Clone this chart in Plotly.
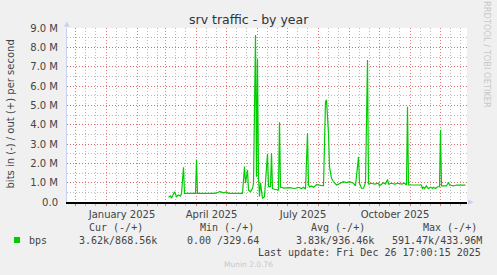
import plotly.graph_objects as go

# ---- data (out direction, Mbit/s) ----
dates = [
    "2025-03-04", "2025-03-06", "2025-03-07", "2025-03-08", "2025-03-10", "2025-03-12",
    "2025-03-14", "2025-03-16", "2025-03-17", "2025-03-19", "2025-03-20", "2025-03-31",
    "2025-04-01", "2025-04-02", "2025-04-19", "2025-04-23", "2025-04-24", "2025-04-28",
    "2025-05-01", "2025-05-03", "2025-05-17", "2025-05-19", "2025-05-20", "2025-05-22",
    "2025-05-23", "2025-05-25", "2025-05-27", "2025-05-28", "2025-05-30", "2025-05-31",
    "2025-06-01", "2025-06-02", "2025-06-03", "2025-06-04", "2025-06-05", "2025-06-06",
    "2025-06-08", "2025-06-10", "2025-06-11", "2025-06-12", "2025-06-14", "2025-06-15",
    "2025-06-16", "2025-06-18", "2025-06-21", "2025-06-22", "2025-06-23", "2025-06-24",
    "2025-06-28", "2025-07-03", "2025-07-08", "2025-07-12", "2025-07-15", "2025-07-17",
    "2025-07-19", "2025-07-21", "2025-07-22", "2025-07-23", "2025-07-25", "2025-07-27",
    "2025-07-29", "2025-07-30", "2025-08-03", "2025-08-06", "2025-08-08", "2025-08-09",
    "2025-08-11", "2025-08-12", "2025-08-14", "2025-08-16", "2025-08-19", "2025-08-22",
    "2025-08-26", "2025-08-29", "2025-09-01", "2025-09-05", "2025-09-07", "2025-09-10",
    "2025-09-11", "2025-09-13", "2025-09-15", "2025-09-17", "2025-09-19", "2025-09-20",
    "2025-09-23", "2025-09-26", "2025-09-30", "2025-10-01", "2025-10-05", "2025-10-07",
    "2025-10-09", "2025-10-10", "2025-10-13", "2025-10-16", "2025-10-20", "2025-10-23",
    "2025-10-26", "2025-10-28", "2025-10-29", "2025-10-30", "2025-11-12", "2025-11-13",
    "2025-11-14", "2025-11-15", "2025-11-17", "2025-11-18", "2025-11-19", "2025-11-21",
    "2025-11-23", "2025-11-24", "2025-11-26", "2025-11-28", "2025-11-30", "2025-12-01",
    "2025-12-02", "2025-12-07", "2025-12-09", "2025-12-10", "2025-12-12", "2025-12-14",
    "2025-12-17", "2025-12-26",
]
out_mbps = [
    0.24, 0.31, 0.19, 0.28, 0.53, 0.27,
    0.36, 0.30, 0.45, 1.80, 0.45, 0.45,
    2.20, 0.45, 0.45, 0.50, 0.55, 0.47,
    0.52, 0.45, 0.45, 1.83, 0.97, 1.66,
    0.62, 0.53, 0.71, 0.97, 8.64, 1.30,
    7.38, 1.30, 0.28, 1.00, 0.50, 0.19,
    0.28, 1.60, 2.50, 0.80, 0.80, 2.52,
    0.70, 0.66, 0.62, 0.62, 4.12, 0.76,
    0.72, 0.74, 0.70, 0.76, 0.70, 0.76,
    0.67, 3.55, 0.88, 0.78, 0.83, 0.76,
    0.84, 0.90, 0.86, 0.85, 5.19, 5.28,
    3.55, 1.83, 1.22, 1.05, 0.88, 0.97,
    1.05, 1.00, 1.05, 0.97, 0.84, 2.34,
    0.97, 0.71, 0.71, 1.00, 7.35, 0.93,
    0.97, 0.93, 0.97, 0.84, 1.00, 0.93,
    1.17, 0.93, 0.97, 0.93, 0.97, 0.93,
    0.97, 0.88, 4.93, 0.88, 0.88, 0.67,
    0.78, 0.70, 0.83, 0.73, 0.70, 0.76,
    0.70, 0.76, 0.70, 0.79, 0.79, 3.72,
    0.83, 0.83, 1.02, 0.88, 0.86, 0.83,
    0.88, 0.87,
]

y_ticks = [0, 1e6, 2e6, 3e6, 4e6, 5e6, 6e6, 7e6, 8e6, 9e6]
y_tick_text = ["0.0", "1.0 M", "2.0 M", "3.0 M", "4.0 M", "5.0 M", "6.0 M", "7.0 M", "8.0 M", "9.0 M"]
month_alias = {
    "November 2024": "", "December 2024": "", "February 2025": "", "March 2025": "",
    "May 2025": "", "June 2025": "", "August 2025": "", "September 2025": "",
    "November 2025": "", "December 2025": "",
}
minor_grid_dates = [
    "2024-12-11", "2024-12-21", "2025-01-11", "2025-01-21", "2025-02-11", "2025-02-21",
    "2025-03-11", "2025-03-21", "2025-04-11", "2025-04-21", "2025-05-11", "2025-05-21",
    "2025-06-11", "2025-06-21", "2025-07-11", "2025-07-21", "2025-08-11", "2025-08-21",
    "2025-09-11", "2025-09-21", "2025-10-11", "2025-10-21", "2025-11-11", "2025-11-21",
    "2025-12-11", "2025-12-21",
]

legend_cols = ["Cur (-/+)", "Min (-/+)", "Avg (-/+)", "Max (-/+)"]
legend_vals = ["3.62k/868.56k", "0.00 /329.64", "3.83k/936.46k", "591.47k/433.96M"]

title = "srv traffic - by year"
ylabel = "bits in (-) / out (+) per second"
series_name = "bps"
last_update = "Last update: Fri Dec 26 17:00:15 2025"
watermark = "RRDTOOL / TOBI OETIKER"
footer = "Munin 2.0.76"

# ---- layout geometry (pixels) ----
W, H = 497, 275
L, R, T, B = 67, 467, 28, 202
PW, PH = R - L, B - T


def px(x):
    return (x - L) / PW


def py(y):
    return (B - y) / PH


GREEN = "#00CC00"
MAJ = "rgba(225,90,90,0.8)"
MIN = "rgba(170,170,170,0.8)"
TXT = "#444444"

fig = go.Figure()
fig.add_trace(go.Scatter(
    x=dates, y=[v * 1e6 for v in out_mbps], mode="lines",
    line=dict(color=GREEN, width=1.2), hoverinfo="skip", showlegend=False,
))

fig.update_layout(
    width=W, height=H,
    margin=dict(l=L, r=W - R, t=T, b=H - B, pad=0),
    paper_bgcolor="#F0F0F0", plot_bgcolor="#FFFFFF",
    showlegend=False,
    font=dict(family="DejaVu Sans", size=10, color=TXT),
)

fig.update_xaxes(
    type="date",
    range=["2024-11-22 12:00", "2025-12-27 12:00"],
    tick0="2024-12-01", dtick="M1",
    ticklabelmode="period", tickformat="%B %Y", labelalias=month_alias,
    showgrid=True, gridcolor=MAJ, griddash="1px,2px", gridwidth=1,
    ticks="outside", ticklen=2, tickcolor="rgba(230,100,100,0.9)",
    minor=dict(tickvals=minor_grid_dates,
               showgrid=True, gridcolor=MIN, griddash="1px,2px", gridwidth=1,
               ticks="outside", ticklen=2, tickcolor="#bbbbbb"),
    showline=True, linecolor="#000000", linewidth=1.5,
    tickfont=dict(family="DejaVu Sans", size=10, color=TXT),
    zeroline=False, fixedrange=True,
)

fig.update_yaxes(
    range=[0, 9e6],
    tickmode="array", tickvals=y_ticks, ticktext=y_tick_text,
    showgrid=True, gridcolor=MAJ, griddash="1px,2px", gridwidth=1,
    minor=dict(dtick=5e5, showgrid=True, gridcolor=MIN, griddash="1px,2px", gridwidth=1),
    showline=True, linecolor="#C8D0F0", linewidth=1,
    ticks="", ticklabelstandoff=6,
    tickfont=dict(family="DejaVu Sans", size=10, color=TXT),
    zeroline=False, fixedrange=True,
)

ann = []
ann.append(dict(text=title, x=px(248.5), y=py(19), xref="paper", yref="paper",
                showarrow=False, font=dict(size=12.5, color="#333333"),
                xanchor="center", yanchor="middle"))
ann.append(dict(text=ylabel, x=px(10.5), y=py(114), xref="paper", yref="paper",
                showarrow=False, textangle=-90, font=dict(size=10, color=TXT),
                xanchor="center", yanchor="middle"))
ann.append(dict(text=watermark, x=px(487), y=py(54), xref="paper", yref="paper",
                showarrow=False, textangle=90, font=dict(size=8.3, color="#C8C8C8"),
                xanchor="center", yanchor="middle", borderpad=0))
# axis arrows
ann.append(dict(text="\u25B2", x=px(67), y=py(24), xref="paper", yref="paper", showarrow=False,
                font=dict(size=7, color="#C8D0F0"), xanchor="center", yanchor="middle"))
ann.append(dict(text="\u25B6", x=px(471), y=py(202), xref="paper", yref="paper", showarrow=False,
                font=dict(size=7, color="#C8D0F0"), xanchor="center", yanchor="middle"))

mono = "DejaVu Sans Mono"
col_centers = [115.8, 226.7, 338.3, 449.7]
val_centers = [118.3, 223.3, 335.0, 436.7]
for c, t in zip(col_centers, legend_cols):
    ann.append(dict(text=t, x=px(c), y=py(227.5), xref="paper", yref="paper", showarrow=False,
                    font=dict(family=mono, size=10, color=TXT), xanchor="center", yanchor="middle"))
for c, t in zip(val_centers, legend_vals):
    ann.append(dict(text=t, x=px(c), y=py(240), xref="paper", yref="paper", showarrow=False,
                    font=dict(family=mono, size=10, color=TXT), xanchor="center", yanchor="middle"))
ann.append(dict(text=series_name, x=px(26.5), y=py(240), xref="paper", yref="paper", showarrow=False,
                font=dict(family=mono, size=10, color=TXT), xanchor="left", yanchor="middle"))
ann.append(dict(text=last_update, x=px(483), y=py(252), xref="paper", yref="paper", showarrow=False,
                font=dict(family=mono, size=10, color=TXT), xanchor="right", yanchor="middle"))
ann.append(dict(text=footer, x=px(248), y=py(264), xref="paper", yref="paper", showarrow=False,
                font=dict(size=7.5, color="#C8C8C8"), xanchor="center", yanchor="middle"))
fig.update_layout(annotations=ann)

fig.add_shape(type="rect", xref="paper", yref="paper",
              x0=px(14), x1=px(20), y0=py(243), y1=py(237),
              fillcolor=GREEN, line=dict(width=0))

fig.write_html("out.html")
